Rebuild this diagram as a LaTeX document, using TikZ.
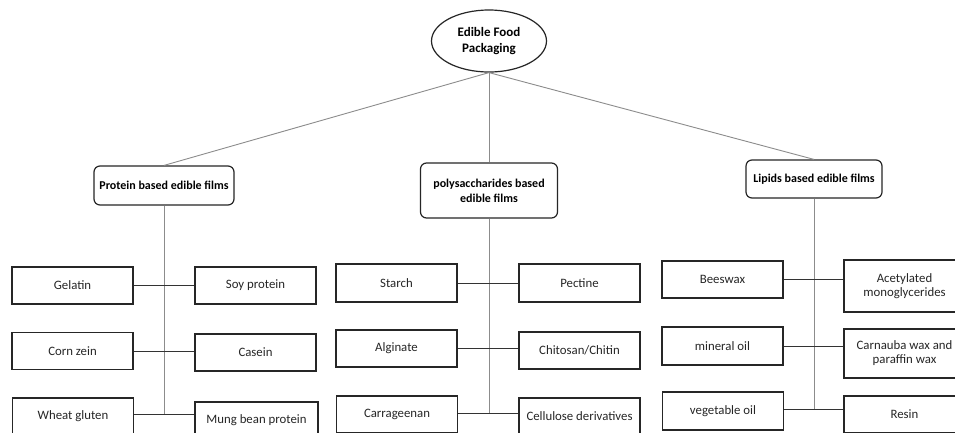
\documentclass[tikz,border=0pt]{standalone}
\usepackage{fontspec}
\setmainfont{Carlito}
\usetikzlibrary{shapes.geometric}
\begin{document}
\begin{tikzpicture}[x=1pt,y=-1pt,
  leaf/.style={draw=black!85, line width=1.2pt, rectangle, minimum width=121pt, minimum height=37pt, inner sep=1pt, align=center, font=\fontsize{12.8}{14}\selectfont, text=black!85},
  cat/.style={draw=black!85, line width=1.2pt, rectangle, rounded corners=6pt, inner sep=1pt, align=center, font=\fontsize{12}{15}\selectfont\bfseries},
  trunk/.style={draw=black!45, line width=0.9pt},
  branch/.style={draw=black!80, line width=1pt}]
\clip (0,0) rectangle (955,432);
\fill[white] (0,0) rectangle (955,432);
% root
\node[draw=black!85, line width=1.2pt, ellipse, minimum width=115pt, minimum height=62pt, inner sep=0pt, align=center, font=\fontsize{13}{16}\selectfont\bfseries] (root) at (489,41) {Edible Food\\Packaging};
% categories
\node[cat, minimum width=140pt, minimum height=39pt] (prot) at (164,185.5) {Protein based edible films};
\node[cat, minimum width=137pt, minimum height=55pt] (poly) at (489,190.5) {polysaccharides based\\edible films};
\node[cat, minimum width=136pt, minimum height=38pt] (lip) at (814,179) {Lipids based edible films};
\draw[trunk] (root.south) -- (prot.north);
\draw[trunk] (root.south) -- (poly.north);
\draw[trunk] (root.south) -- (lip.north);
% column 1
\node[leaf] (a1) at (72.5,285.5) {Gelatin};
\node[leaf] (b1) at (255.5,285.5) {Soy protein};
\node[leaf] (a2) at (72.5,351) {Corn zein};
\node[leaf] (b2) at (255.5,352.5) {Casein};
\node[leaf] (a3) at (73,416.5) {Wheat gluten};
\node[leaf, minimum width=123pt] (b3) at (256.5,420.5) {Mung bean protein};
\coordinate (e1) at (164,414);
\draw[trunk] (prot.south) -- (e1);
\draw[branch] (a1.east) -- (a1.east -| b1.west);
\draw[branch] (a2.east) -- (a2.east -| b2.west);
\draw[branch] (a3.east |- e1) -- (e1 -| b3.west);
% column 2
\node[leaf, minimum height=38pt] (c1) at (396.5,283) {Starch};
\node[leaf, minimum height=38pt] (d1) at (579.5,283) {Pectine};
\node[leaf] (c2) at (396.5,348.5) {Alginate};
\node[leaf] (d2) at (579.5,350.5) {Chitosan/Chitin};
\node[leaf] (c3) at (397,414.5) {Carrageenan};
\node[leaf] (d3) at (579.5,416.5) {Cellulose derivatives};
\coordinate (e2) at (489,413);
\draw[trunk] (poly.south) -- (e2);
\draw[branch] (c1.east) -- (c1.east -| d1.west);
\draw[branch] (c2.east) -- (c2.east -| d2.west);
\draw[branch] (c3.east |- e2) -- (e2 -| d3.west);
% column 3
\node[leaf] (f1) at (722.5,279.5) {Beeswax};
\node[leaf, minimum height=52pt] (g1) at (904.5,286) {Acetylated\\monoglycerides};
\node[leaf, minimum height=38pt] (f2) at (722.5,346) {mineral oil};
\node[leaf, minimum height=49pt] (g2) at (904.5,353.5) {Carnauba wax and\\paraffin wax};
\node[leaf, minimum height=38pt] (f3) at (723,411) {vegetable oil};
\node[leaf] (g3) at (904.5,414.5) {Resin};
\coordinate (e3) at (814,409);
\draw[trunk] (lip.south) -- (e3);
\draw[branch] (f1.east) -- (f1.east -| g1.west);
\draw[branch] (f2.east) -- (f2.east -| g2.west);
\draw[branch] (f3.east |- e3) -- (e3 -| g3.west);
\end{tikzpicture}
\end{document}
